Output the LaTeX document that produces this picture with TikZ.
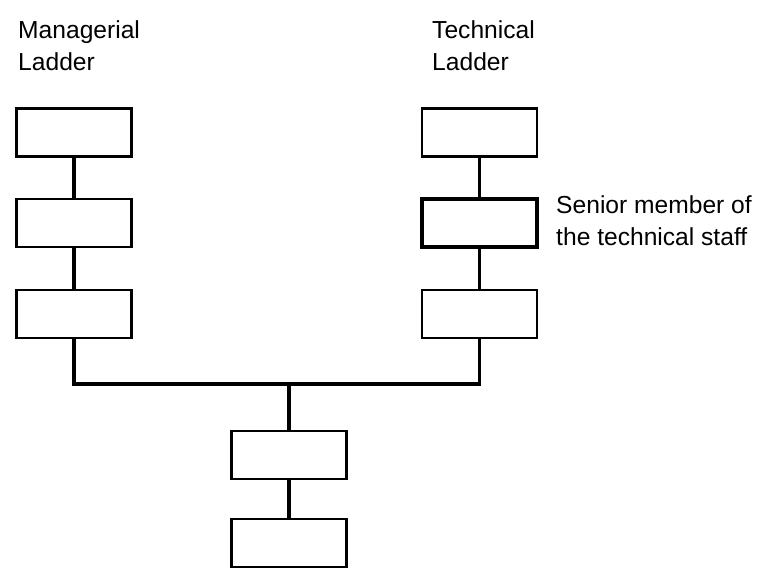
\documentclass[tikz,border=0pt]{standalone}
\usepackage{fontspec}
\setmainfont{Liberation Sans}

\begin{document}
\begin{tikzpicture}[x=0.03cm,y=-0.03cm,line cap=rect,line join=miter,
  rung/.style={draw=black,line width=2.4pt,minimum width=3.45cm,minimum height=1.44cm,inner sep=0pt},
  ladderlabel/.style={anchor=north west,inner sep=0pt,align=left,font=\fontsize{21}{27.5}\selectfont},
  rail/.style={draw=black,line width=2.6pt}]
  \useasboundingbox (0,0) rectangle (766,587);
  % managerial ladder
  \node[rung] (m1) at (74,132.5) {};
  \node[rung] (m2) at (74,223) {};
  \node[rung] (m3) at (74,314) {};
  % technical ladder
  \node[rung] (t1) at (479.5,132.5) {};
  \node[rung,line width=2.8pt] (t2) at (479.5,223) {};
  \node[rung] (t3) at (479.5,314) {};
  % common entry
  \node[rung] (c1) at (289,455) {};
  \node[rung] (c2) at (289,543) {};
  \coordinate (bus) at (289,384);
  \draw[rail] (m1) -- (m2);
  \draw[rail] (m2) -- (m3);
  \draw[rail] (t1) -- (t2);
  \draw[rail] (t2) -- (t3);
  \draw[rail] (m3.south) |- (bus) -| (t3.south);
  \draw[rail] (bus) -- (c1.north);
  \draw[rail] (c1) -- (c2);
  \node[ladderlabel] (mlab) at (18,20.5) {Managerial\\Ladder};
  \node[ladderlabel] (tlab) at (432,20.5) {Technical\\Ladder};
  \node[ladderlabel] (slab) at (556,195.5) {Senior member of\\the technical staff};
\end{tikzpicture}
\end{document}
